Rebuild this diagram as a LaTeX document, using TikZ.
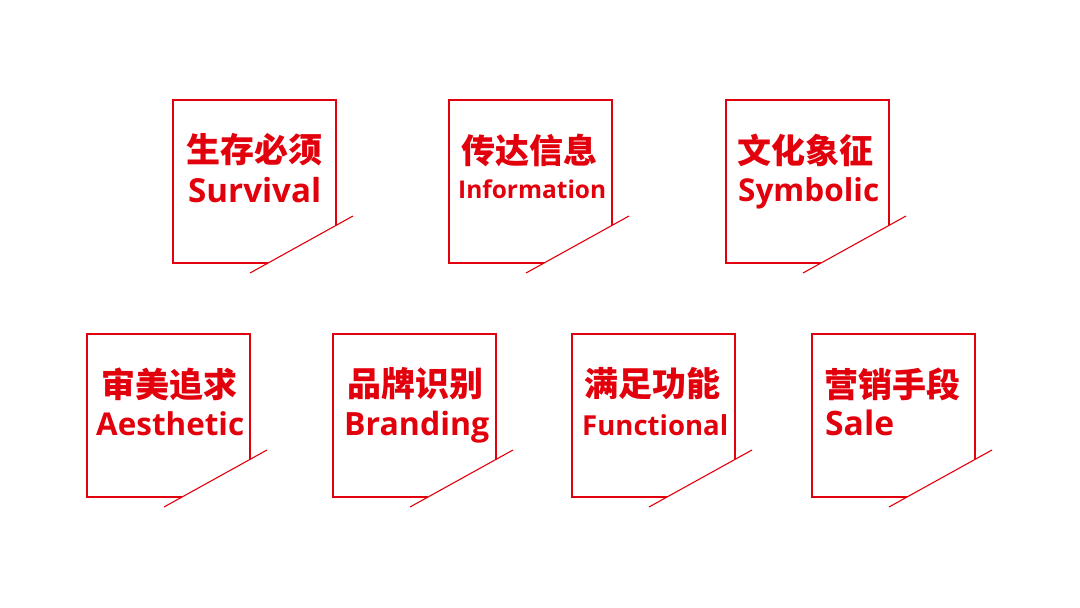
\documentclass[tikz,border=0pt]{standalone}
\usepackage{fontspec}
\usepackage{graphicx}
\newfontfamily\cjk{Noto Sans CJK SC}
\newfontfamily\lat{Open Sans}
\definecolor{brandred}{RGB}{226,0,12}
\tikzset{
  boxline/.style={draw=brandred, line width=2.4pt, line join=miter},
  slash/.style={draw=brandred, line width=1.1pt},
  zhtext/.style={anchor=west, inner sep=0pt, text=brandred, font=\cjk\bfseries\fontsize{34}{34}\selectfont},
  entext/.style={anchor=base west, inner sep=0pt, text=brandred, font=\lat\bfseries\fontsize{30}{30}\selectfont}
}
\begin{document}
\begin{tikzpicture}[x=1pt,y=-1pt]
\useasboundingbox[fill=white] (0,0) rectangle (1080,608);
\foreach \L/\T/\n/\zh/\en/\zx/\ex/\ew/\eb in {
  173/100/a/生存必须/Survival/13/15/133/102,
  449/100/b/传达信息/Information/12/9/148/98,
  726/100/c/文化象征/Symbolic/11/12/141/101,
  87/334/d/审美追求/Aesthetic/14/9/148/101,
  333/334/e/品牌识别/Branding/14/11/145/101,
  572/334/f/满足功能/Functional/12/10/146/101,
  812/334/g/营销手段/Sale/12/13/69/101}{
  \coordinate (box\n) at (\L,\T);
  \draw[boxline] (\L+95,\T+163) -- (\L,\T+163) -- (\L,\T) -- (\L+163,\T) -- (\L+163,\T+125.4);
  \draw[slash] (\L+77,\T+173) -- (\L+180,\T+116);
  \node[zhtext] (zh\n) at (\L+\zx,\T+50) {\zh};
  \node[entext] (en\n) at (\L+\ex,\T+\eb) {\resizebox{\ew pt}{!}{\en}};
}
\end{tikzpicture}
\end{document}
